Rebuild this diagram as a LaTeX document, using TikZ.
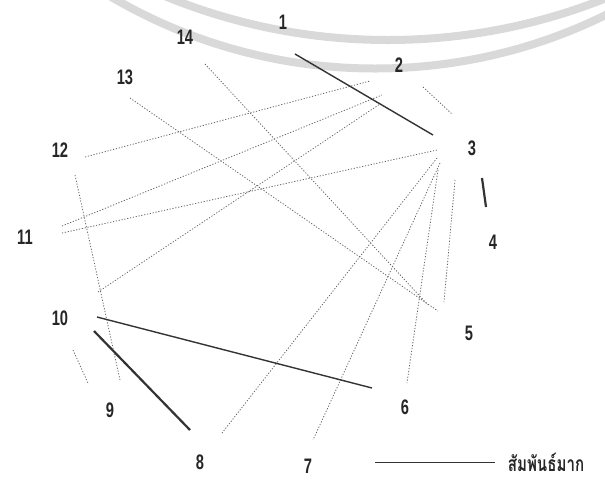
\documentclass[tikz,border=0pt]{standalone}
\usepackage{fontspec}
\setmainfont{Liberation Sans}[FakeStretch=0.7]
\newfontfamily\thaifont[Script=Thai,FakeStretch=0.72]{Loma}
\begin{document}
\begin{tikzpicture}[x=1pt,y=-1pt,
  lab/.style={font=\fontsize{21}{21}\selectfont\bfseries, inner sep=0pt, text=black!85},
  weak/.style={black!60, line width=0.8pt, dash pattern=on 1.2pt off 1.7pt},
  strong/.style={black!80, line width=1.4pt},
  band/.style={black!15, line width=8pt}]
\useasboundingbox (0,0) rectangle (605,483);
% watermark bands
\draw[band] (375.2,-453.5) circle[radius=522];
\draw[band] (388,-547) circle[radius=587];
% labels
\node[lab] (n1) at (283,22) {1};
\node[lab] (n14) at (185,37) {14};
\node[lab] (n2) at (399,65) {2};
\node[lab] (n13) at (125,77) {13};
\node[lab] (n3) at (472,148) {3};
\node[lab] (n12) at (60,150) {12};
\node[lab] (n11) at (25,237) {11};
\node[lab] (n4) at (493,242) {4};
\node[lab] (n10) at (60,318) {10};
\node[lab] (n5) at (469,333) {5};
\node[lab] (n9) at (110,410) {9};
\node[lab] (n6) at (405,407) {6};
\node[lab] (n8) at (200,462) {8};
\node[lab] (n7) at (308,466) {7};
\node[lab, font=\thaifont\fontsize{21}{21}\selectfont\bfseries] (leg) at (546,462) {สัมพันธ์มาก};
% endpoints
\coordinate (a1) at (295,54);
\coordinate (a3s) at (433,135);
\coordinate (a2d) at (423,87);
\coordinate (a3d) at (452,114);
\coordinate (a3t) at (482,178);
\coordinate (a4t) at (486,207);
\coordinate (a12) at (85,157);
\coordinate (a2a) at (370,81);
\coordinate (a11a) at (62,226);
\coordinate (a2b) at (382,95);
\coordinate (a10a) at (98,292);
\coordinate (a2c) at (380,104);
\coordinate (a11b) at (62,233);
\coordinate (a3a) at (437,150);
\coordinate (a13) at (130,98);
\coordinate (a5a) at (438,311);
\coordinate (a14) at (205,64);
\coordinate (a5b) at (428,305);
\coordinate (a3b) at (437,158);
\coordinate (a8a) at (222,433);
\coordinate (a3c) at (440,163);
\coordinate (a7) at (313,440);
\coordinate (a3e) at (438,170);
\coordinate (a6a) at (407,383);
\coordinate (a3f) at (455,180);
\coordinate (a5c) at (444,302);
\coordinate (a12b) at (75,175);
\coordinate (a9a) at (120,380);
\coordinate (a10b) at (73,350);
\coordinate (a9b) at (88,383);
\coordinate (a10c) at (97,317);
\coordinate (a6b) at (372,388);
\coordinate (a10d) at (94,331);
\coordinate (a8b) at (190,430);
\coordinate (l1) at (375,462);
\coordinate (l2) at (495,462);
% weak relations
\draw[weak] (a2d) -- (a3d);
\draw[weak] (a12) -- (a2a);
\draw[weak] (a11a) -- (a2b);
\draw[weak] (a10a) -- (a2c);
\draw[weak] (a11b) -- (a3a);
\draw[weak] (a13) -- (a5a);
\draw[weak] (a14) -- (a5b);
\draw[weak] (a3b) -- (a8a);
\draw[weak] (a3c) -- (a7);
\draw[weak] (a3e) -- (a6a);
\draw[weak] (a3f) -- (a5c);
\draw[weak] (a12b) -- (a9a);
\draw[weak] (a10b) -- (a9b);
% strong relations
\draw[strong] (a1) -- (a3s);
\draw[strong, line width=2.2pt] (a3t) -- (a4t);
\draw[strong] (a10c) -- (a6b);
\draw[strong, line width=2.2pt] (a10d) -- (a8b);
\draw[strong, line width=1pt] (l1) -- (l2);
\end{tikzpicture}
\end{document}
